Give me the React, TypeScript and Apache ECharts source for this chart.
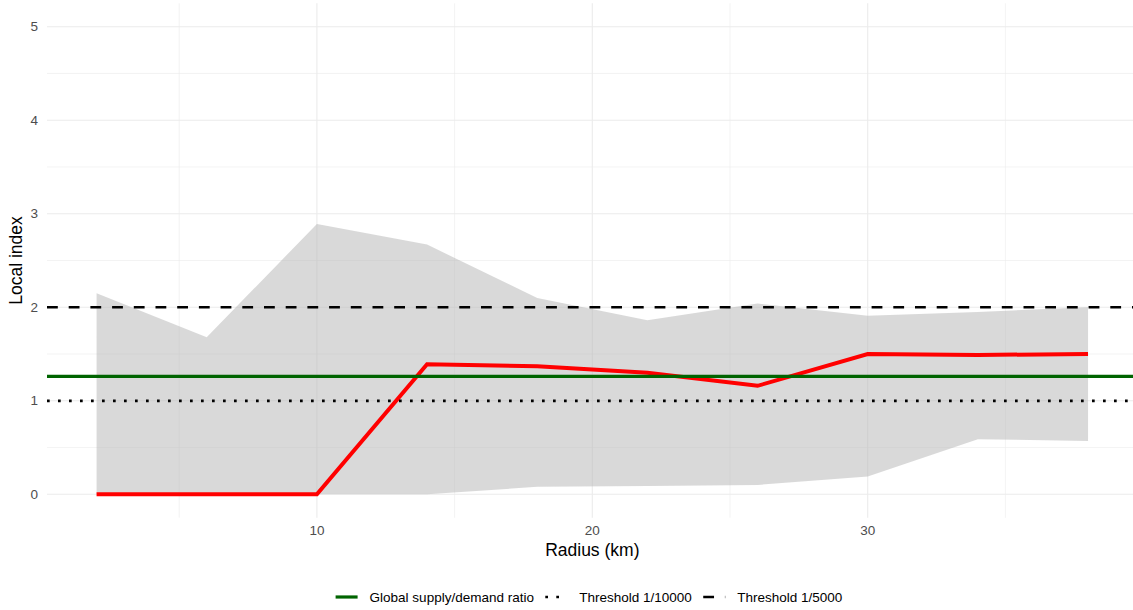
import React, { useEffect, useRef } from "react";
import * as echarts from "echarts";

// Search radius (km) and the local index computed at each radius
const radius = [2, 6, 10, 14, 18, 22, 26, 30, 34, 38];
const localIndex = [0, 0, 0, 1.39, 1.37, 1.3, 1.16, 1.5, 1.49, 1.5];
// Spread of the local index across locations
const bandUpper = [2.15, 1.68, 2.89, 2.67, 2.1, 1.86, 2.04, 1.91, 1.95, 2.0];
const bandLower = [0, 0, 0, 0, 0.08, 0.09, 0.1, 0.19, 0.59, 0.57];

// Reference levels
const globalRatio = 1.26;
const threshold10000 = 1;
const threshold5000 = 2;

// Axis ticks and grid lines
const xTicks = [10, 20, 30];
const xMinorGrid = [5, 15, 25, 35];
const yTicks = [0, 1, 2, 3, 4, 5];
const yMinorGrid = [0.5, 1.5, 2.5, 3.5, 4.5];

// Axis limits (data range plus 5% padding on each side)
const xLo = 0.2;
const xHi = 39.8;
const yLo = -0.25;
const yHi = 5.25;

const FONT = '"Liberation Sans", Arial, Helvetica, sans-serif';

const DOTTED = [2.7, 8.3];
const DASHED = [10.8, 10.9];

export default function App() {
  const ref = useRef<HTMLDivElement>(null);

  useEffect(() => {
    if (!ref.current) return;
    const chart = echarts.init(ref.current, null, { renderer: "svg" });

    // grid line rows: [value, orientation (0 = vertical, 1 = horizontal), major flag]
    const gridRows: number[][] = [
      ...xMinorGrid.map((v) => [v, 0, 0]),
      ...yMinorGrid.map((v) => [v, 1, 0]),
      ...xTicks.map((v) => [v, 0, 1]),
      ...yTicks.map((v) => [v, 1, 1]),
    ];

    const hline = (y: number) => [
      [xLo, y],
      [xHi, y],
    ];

    chart.setOption({
      animation: false,
      backgroundColor: "#ffffff",
      textStyle: { fontFamily: FONT },
      grid: {
        left: 47,
        right: -4.6,
        top: 3.3,
        bottom: 92.3,
        containLabel: false,
        outerBoundsMode: "none",
      },
      xAxis: {
        type: "value",
        min: xLo,
        max: xHi,
        name: "Radius (km)",
        nameLocation: "middle",
        nameGap: 23,
        nameMoveOverlap: false,
        nameTextStyle: { color: "#000", fontSize: 17.5, fontFamily: FONT },
        axisLine: { show: false },
        axisTick: { show: false },
        splitLine: { show: false },
        axisLabel: {
          customValues: xTicks,
          color: "#4d4d4d",
          fontSize: 13.5,
          margin: 6,
          fontFamily: FONT,
        },
      },
      yAxis: {
        type: "value",
        min: yLo,
        max: yHi,
        name: "Local index",
        nameLocation: "middle",
        nameGap: 22,
        nameMoveOverlap: false,
        nameTextStyle: { color: "#000", fontSize: 17.5, fontFamily: FONT },
        axisLine: { show: false },
        axisTick: { show: false },
        splitLine: { show: false },
        axisLabel: {
          customValues: yTicks,
          color: "#4d4d4d",
          fontSize: 13.5,
          margin: 9,
          fontFamily: FONT,
        },
      },
      legend: {
        left: 334,
        top: 590,
        padding: 0,
        itemWidth: 22,
        itemHeight: 14,
        itemGap: 10,
        itemStyle: { opacity: 0 },
        textStyle: { color: "#000", fontSize: 13.5, fontFamily: FONT, padding: [0, 0, 0, 7] },
        data: [
          { name: "Global supply/demand ratio", lineStyle: { width: 3.2 } },
          { name: "Threshold 1/10000", lineStyle: { width: 2.7, type: DOTTED } },
          { name: "Threshold 1/5000", lineStyle: { width: 2.7, type: DASHED } },
        ],
      },
      series: [
        {
          // panel grid lines
          type: "custom",
          silent: true,
          z: 0,
          data: gridRows,
          renderItem: (params: any, api: any) => {
            const cs = params.coordSys;
            const v = api.value(0);
            const horizontal = api.value(1) === 1;
            const major = api.value(2) === 1;
            const style = { stroke: "#ebebeb", lineWidth: major ? 1.1 : 0.6 };
            if (horizontal) {
              const py = api.coord([xLo, v])[1];
              return { type: "line", shape: { x1: cs.x, y1: py, x2: cs.x + cs.width, y2: py }, style };
            }
            const px = api.coord([v, yLo])[0];
            return { type: "line", shape: { x1: px, y1: cs.y, x2: px, y2: cs.y + cs.height }, style };
          },
        },
        {
          // shaded band between lower and upper values
          type: "custom",
          silent: true,
          z: 1,
          data: radius.map((r, i) => [r, bandLower[i], bandUpper[i]]),
          renderItem: (params: any, api: any) => {
            if (params.dataIndex !== 0) return null;
            const top = radius.map((r, i) => api.coord([r, bandUpper[i]]));
            const bottom = radius.map((r, i) => api.coord([r, bandLower[i]])).reverse();
            return {
              type: "polygon",
              shape: { points: [...top, ...bottom] },
              style: { fill: "rgba(179,179,179,0.5)" },
            };
          },
        },
        {
          name: "Local index",
          type: "line",
          z: 2,
          symbol: "none",
          data: radius.map((r, i) => [r, localIndex[i]]),
          lineStyle: { color: "#ff0000", width: 4, cap: "butt", join: "miter" },
        },
        {
          name: "Global supply/demand ratio",
          type: "line",
          z: 3,
          symbol: "none",
          color: "#006400",
          data: hline(globalRatio),
          lineStyle: { color: "#006400", width: 3.2, cap: "butt" },
        },
        {
          name: "Threshold 1/10000",
          type: "line",
          z: 3,
          symbol: "none",
          color: "#000000",
          data: hline(threshold10000),
          lineStyle: { color: "#000000", width: 2.7, type: DOTTED, cap: "butt" },
        },
        {
          name: "Threshold 1/5000",
          type: "line",
          z: 3,
          symbol: "none",
          color: "#000000",
          data: hline(threshold5000),
          lineStyle: { color: "#000000", width: 2.7, type: DASHED, cap: "butt" },
        },
      ],
    });

    return () => chart.dispose();
  }, []);

  return <div ref={ref} style={{ width: 1133, height: 610, position: "absolute", left: 0, top: 0 }} />;
}
